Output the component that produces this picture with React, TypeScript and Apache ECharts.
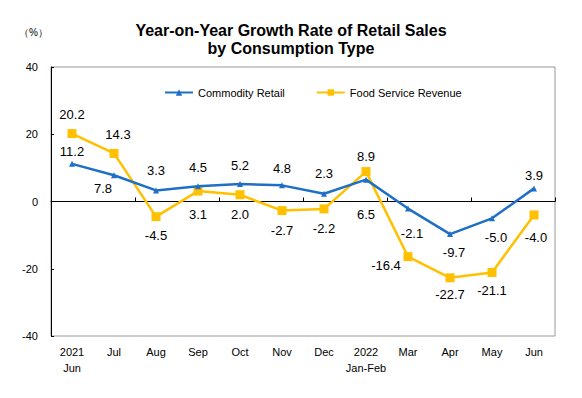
import React, { useEffect, useRef } from "react";
import * as echarts from "echarts";

const categories = ["2021\nJun", "Jul", "Aug", "Sep", "Oct", "Nov", "Dec", "2022\nJan-Feb", "Mar", "Apr", "May", "Jun"];
const commodityRetail = [11.2, 7.8, 3.3, 4.5, 5.2, 4.8, 2.3, 6.5, -2.1, -9.7, -5.0, 3.9];
const foodService = [20.2, 14.3, -4.5, 3.1, 2.0, -2.7, -2.2, 8.9, -16.4, -22.7, -21.1, -4.0];
const yTicks = { min: -40, max: 40, interval: 20 };

// label offsets (dx, dy) relative to each point
const commodityLabelOffsets = [[0, -12], [-11, 13], [0, -20], [0, -19], [0, -19], [0, -17], [0, -20], [0, 35], [4, 25], [4, 18], [4, 19], [0, -13]];
const foodLabelOffsets = [[0, -19], [4, -19], [0, 19], [0, 23], [0, 20], [0, 20], [0, 20], [0, -15], [-22, 9], [0, 17], [0, 18], [2, 23]];

const FONT = "'Liberation Sans', Arial, sans-serif";
const BLUE = "#1F6FC6";
const YELLOW = "#FFC000";

function buildData(values: number[], offsets: number[][]) {
  return values.map((v, i) => ({
    value: v,
    label: { show: true, position: "inside", offset: offsets[i] },
  }));
}

export default function App() {
  const ref = useRef<HTMLDivElement>(null);
  useEffect(() => {
    if (!ref.current) return;
    const chart = echarts.init(ref.current, null, { renderer: "svg" });
    const labelStyle = {
      show: true,
      color: "#000",
      fontSize: 13,
      fontFamily: FONT,
      formatter: (p: any) => Number(p.value).toFixed(1),
    };
    chart.setOption({
      animation: false,
      backgroundColor: "#fff",
      textStyle: { fontFamily: FONT },
      graphic: [
        {
          type: "text",
          x: 291,
          y: 21,
          style: {
            text: "Year-on-Year Growth Rate of Retail Sales\nby Consumption Type",
            font: `bold 16px ${FONT}`,
            fill: "#000",
            textAlign: "center",
            textVerticalAlign: "top",
            lineHeight: 18,
          },
        },
        {
          type: "text",
          x: 19,
          y: 27,
          style: {
            text: "（%）",
            font: `10px ${FONT}`,
            fill: "#000",
          },
        },
      ],
      legend: {
        left: 159,
        top: 82,
        itemWidth: 28,
        itemHeight: 8,
        itemGap: 31,
        textStyle: { fontSize: 11, color: "#000", fontFamily: FONT },
        data: ["Commodity Retail", "Food Service Revenue"],
      },
      grid: {
        left: 51,
        right: 27,
        top: 67,
        bottom: 62,
        show: true,
        borderColor: "#999",
        borderWidth: 1,
        containLabel: false,
      },
      xAxis: [
        {
          type: "category",
          data: categories,
          position: "bottom",
          boundaryGap: true,
          axisLine: { show: false, onZero: false },
          axisTick: { show: false },
          axisLabel: {
            color: "#000",
            fontSize: 11,
            lineHeight: 16,
            margin: 8,
            interval: 0,
            fontFamily: FONT,
          },
          splitLine: { show: false },
        },
        {
          type: "category",
          data: categories,
          position: "bottom",
          boundaryGap: true,
          axisLine: { show: true, onZero: true, lineStyle: { color: "#000", width: 1 } },
          axisTick: { show: true, inside: true, length: 4, lineStyle: { color: "#000" } },
          axisLabel: { show: false },
          splitLine: { show: false },
        },
      ],
      yAxis: {
        type: "value",
        min: yTicks.min,
        max: yTicks.max,
        interval: yTicks.interval,
        axisLine: { show: true, lineStyle: { color: "#000", width: 1 } },
        axisTick: { show: true, inside: true, length: 3, lineStyle: { color: "#000" } },
        axisLabel: { color: "#000", fontSize: 11, margin: 13, fontFamily: FONT },
        splitLine: { show: false },
      },
      series: [
        {
          name: "Commodity Retail",
          type: "line",
          xAxisIndex: 0,
          data: buildData(commodityRetail, commodityLabelOffsets),
          symbol: "triangle",
          symbolSize: 6,
          lineStyle: { color: BLUE, width: 2.5 },
          itemStyle: { color: BLUE },
          label: labelStyle,
          z: 3,
        },
        {
          name: "Food Service Revenue",
          type: "line",
          xAxisIndex: 0,
          data: buildData(foodService, foodLabelOffsets),
          symbol: "rect",
          symbolSize: 9,
          lineStyle: { color: YELLOW, width: 2.5 },
          itemStyle: { color: YELLOW },
          label: labelStyle,
          z: 2,
        },
      ],
    });
    return () => chart.dispose();
  }, []);
  return <div ref={ref} style={{ width: 582, height: 398, position: "fixed", left: 0, top: 0 }} />;
}

const _unused = React;
